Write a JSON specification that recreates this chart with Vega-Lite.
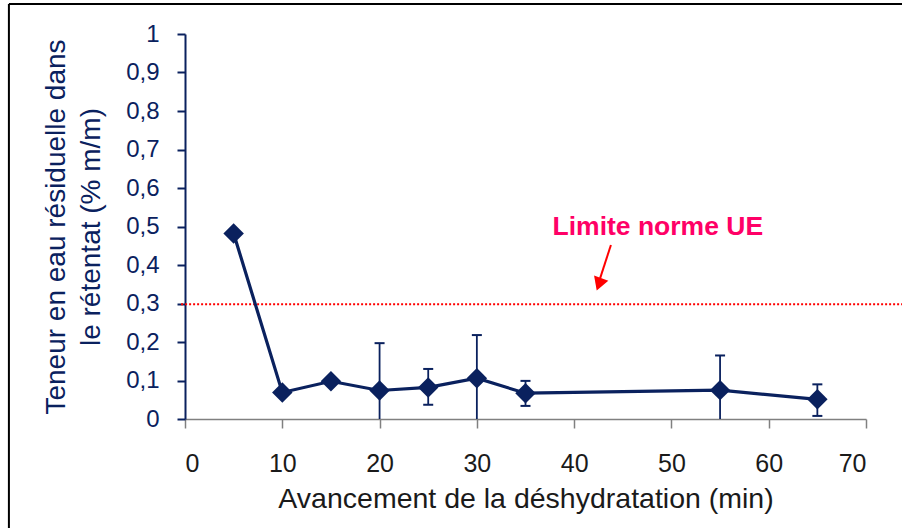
{
  "$schema": "https://vega.github.io/schema/vega-lite/v6.json",
  "width": 681,
  "height": 385,
  "autosize": "none",
  "padding": {"left": 185, "top": 34, "right": 36, "bottom": 109},
  "background": "white",
  "config": {
    "view": {"stroke": null},
    "font": "Liberation Sans"
  },
  "resolve": {"axis": {"x": "independent", "y": "independent"}},
  "layer": [
    {
      "data": {"values": [{}]},
      "mark": {"type": "rule", "color": "#000000", "strokeWidth": 2},
      "encoding": {
        "x": {"datum": -18.1, "type": "quantitative", "axis": null, "scale": {"domain": [0, 70], "nice": false, "zero": false}},
        "x2": {"datum": 73.8},
        "y": {"datum": 1.078, "type": "quantitative", "axis": null, "scale": {"domain": [0, 1], "nice": false, "zero": false}}
      }
    },
    {
      "data": {"values": [{}]},
      "mark": {"type": "rule", "color": "#000000", "strokeWidth": 2},
      "encoding": {
        "x": {"datum": -18.1, "type": "quantitative", "axis": null, "scale": {"domain": [0, 70], "nice": false, "zero": false}},
        "y": {"datum": 1.078, "type": "quantitative", "axis": null, "scale": {"domain": [0, 1], "nice": false, "zero": false}},
        "y2": {"datum": -0.3}
      }
    },
    {
      "data": {"values": [{"limit": 0.298}]},
      "mark": {"type": "rule", "color": "#ff0000", "strokeWidth": 2, "strokeDash": [2, 2]},
      "encoding": {
        "x": {"datum": -0.4, "type": "quantitative", "axis": null, "scale": {"domain": [0, 70], "nice": false, "zero": false}},
        "x2": {"datum": 73.8},
        "y": {"field": "limit", "type": "quantitative", "axis": null, "scale": {"domain": [0, 1], "nice": false, "zero": false}}
      }
    },
    {
      "data": {
        "values": [
          {"t": 5, "v": 0.482, "lo": null, "hi": null},
          {"t": 10, "v": 0.069, "lo": null, "hi": null},
          {"t": 15, "v": 0.098, "lo": null, "hi": null},
          {"t": 20, "v": 0.074, "lo": -0.05, "hi": 0.197},
          {"t": 25, "v": 0.082, "lo": 0.037, "hi": 0.13},
          {"t": 30, "v": 0.106, "lo": -0.006, "hi": 0.218},
          {"t": 35, "v": 0.067, "lo": 0.034, "hi": 0.099},
          {"t": 55, "v": 0.075, "lo": -0.015, "hi": 0.165},
          {"t": 65, "v": 0.051, "lo": 0.008, "hi": 0.09}
        ]
      },
      "encoding": {
        "x": {
          "field": "t",
          "type": "quantitative",
          "scale": {"domain": [0, 70], "nice": false, "zero": false},
          "axis": {
            "title": "Avancement de la déshydratation (min)",
            "values": [0, 10, 20, 30, 40, 50, 60, 70],
            "format": "d",
            "grid": false,
            "domainColor": "#808080",
            "domainWidth": 1.5,
            "tickColor": "#808080",
            "tickWidth": 1.5,
            "tickSize": 9,
            "labelFont": "Liberation Sans",
            "labelFontSize": 25,
            "labelColor": "#1a1a1a",
            "labelPadding": 23,
            "titleFont": "Liberation Sans",
            "titleFontSize": 28.5,
            "titleFontWeight": "normal",
            "titleColor": "#1a1a1a",
            "titlePadding": 8
          }
        },
        "y": {
          "field": "v",
          "type": "quantitative",
          "scale": {"domain": [0, 1], "nice": false, "zero": false},
          "axis": {
            "title": ["Teneur en eau résiduelle dans", "le rétentat (% m/m)"],
            "values": [0, 0.1, 0.2, 0.3, 0.4, 0.5, 0.6, 0.7, 0.8, 0.9, 1],
            "labelExpr": "replace(format(datum.value, '.1~f'), '.', ',')",
            "labelOverlap": false,
            "grid": false,
            "domainColor": "#0a215e",
            "domainWidth": 2,
            "tickColor": "#0a215e",
            "tickWidth": 2,
            "tickSize": 8,
            "labelFont": "Liberation Sans",
            "labelFontSize": 24,
            "labelColor": "#0a215e",
            "labelPadding": 18,
            "titleFont": "Liberation Sans",
            "titleFontSize": 28,
            "titleFontWeight": "normal",
            "titleColor": "#0a215e",
            "titleLineHeight": 35,
            "titlePadding": 20
          }
        }
      },
      "layer": [
        {
          "mark": {"type": "rule", "color": "#0a215e", "strokeWidth": 1.8, "clip": true},
          "encoding": {
            "y": {"field": "lo", "type": "quantitative"},
            "y2": {"field": "hi"}
          }
        },
        {
          "mark": {"type": "point", "shape": "stroke", "size": 100, "color": "#0a215e", "strokeWidth": 2, "opacity": 1, "clip": true},
          "encoding": {
            "y": {"field": "hi", "type": "quantitative"}
          }
        },
        {
          "mark": {"type": "point", "shape": "stroke", "size": 100, "color": "#0a215e", "strokeWidth": 2, "opacity": 1, "clip": true},
          "encoding": {
            "y": {"field": "lo", "type": "quantitative"}
          }
        },
        {
          "mark": {"type": "line", "color": "#0a215e", "strokeWidth": 3.2}
        },
        {
          "mark": {"type": "point", "shape": "diamond", "size": 420, "filled": true, "color": "#0a215e", "opacity": 1}
        }
      ]
    },
    {
      "data": {"values": [{"label": "Limite norme UE"}]},
      "mark": {"type": "text", "color": "#ff0066", "font": "Liberation Sans", "fontSize": 26.5, "fontWeight": "bold", "align": "center", "baseline": "middle"},
      "encoding": {
        "x": {"datum": 48.6, "type": "quantitative", "axis": null, "scale": {"domain": [0, 70], "nice": false, "zero": false}},
        "y": {"datum": 0.5, "type": "quantitative", "axis": null, "scale": {"domain": [0, 1], "nice": false, "zero": false}},
        "text": {"field": "label"}
      }
    },
    {
      "data": {"values": [{}]},
      "mark": {"type": "rule", "color": "#ff0000", "strokeWidth": 2},
      "encoding": {
        "x": {"datum": 43.78, "type": "quantitative", "axis": null, "scale": {"domain": [0, 70], "nice": false, "zero": false}},
        "x2": {"datum": 42.6},
        "y": {"datum": 0.452, "type": "quantitative", "axis": null, "scale": {"domain": [0, 1], "nice": false, "zero": false}},
        "y2": {"datum": 0.36}
      }
    },
    {
      "data": {"values": [{}]},
      "mark": {"type": "point", "shape": "triangle-down", "size": 230, "filled": true, "color": "#ff0000", "opacity": 1, "angle": 20},
      "encoding": {
        "x": {"datum": 42.55, "type": "quantitative", "axis": null, "scale": {"domain": [0, 70], "nice": false, "zero": false}},
        "y": {"datum": 0.35, "type": "quantitative", "axis": null, "scale": {"domain": [0, 1], "nice": false, "zero": false}}
      }
    }
  ]
}
